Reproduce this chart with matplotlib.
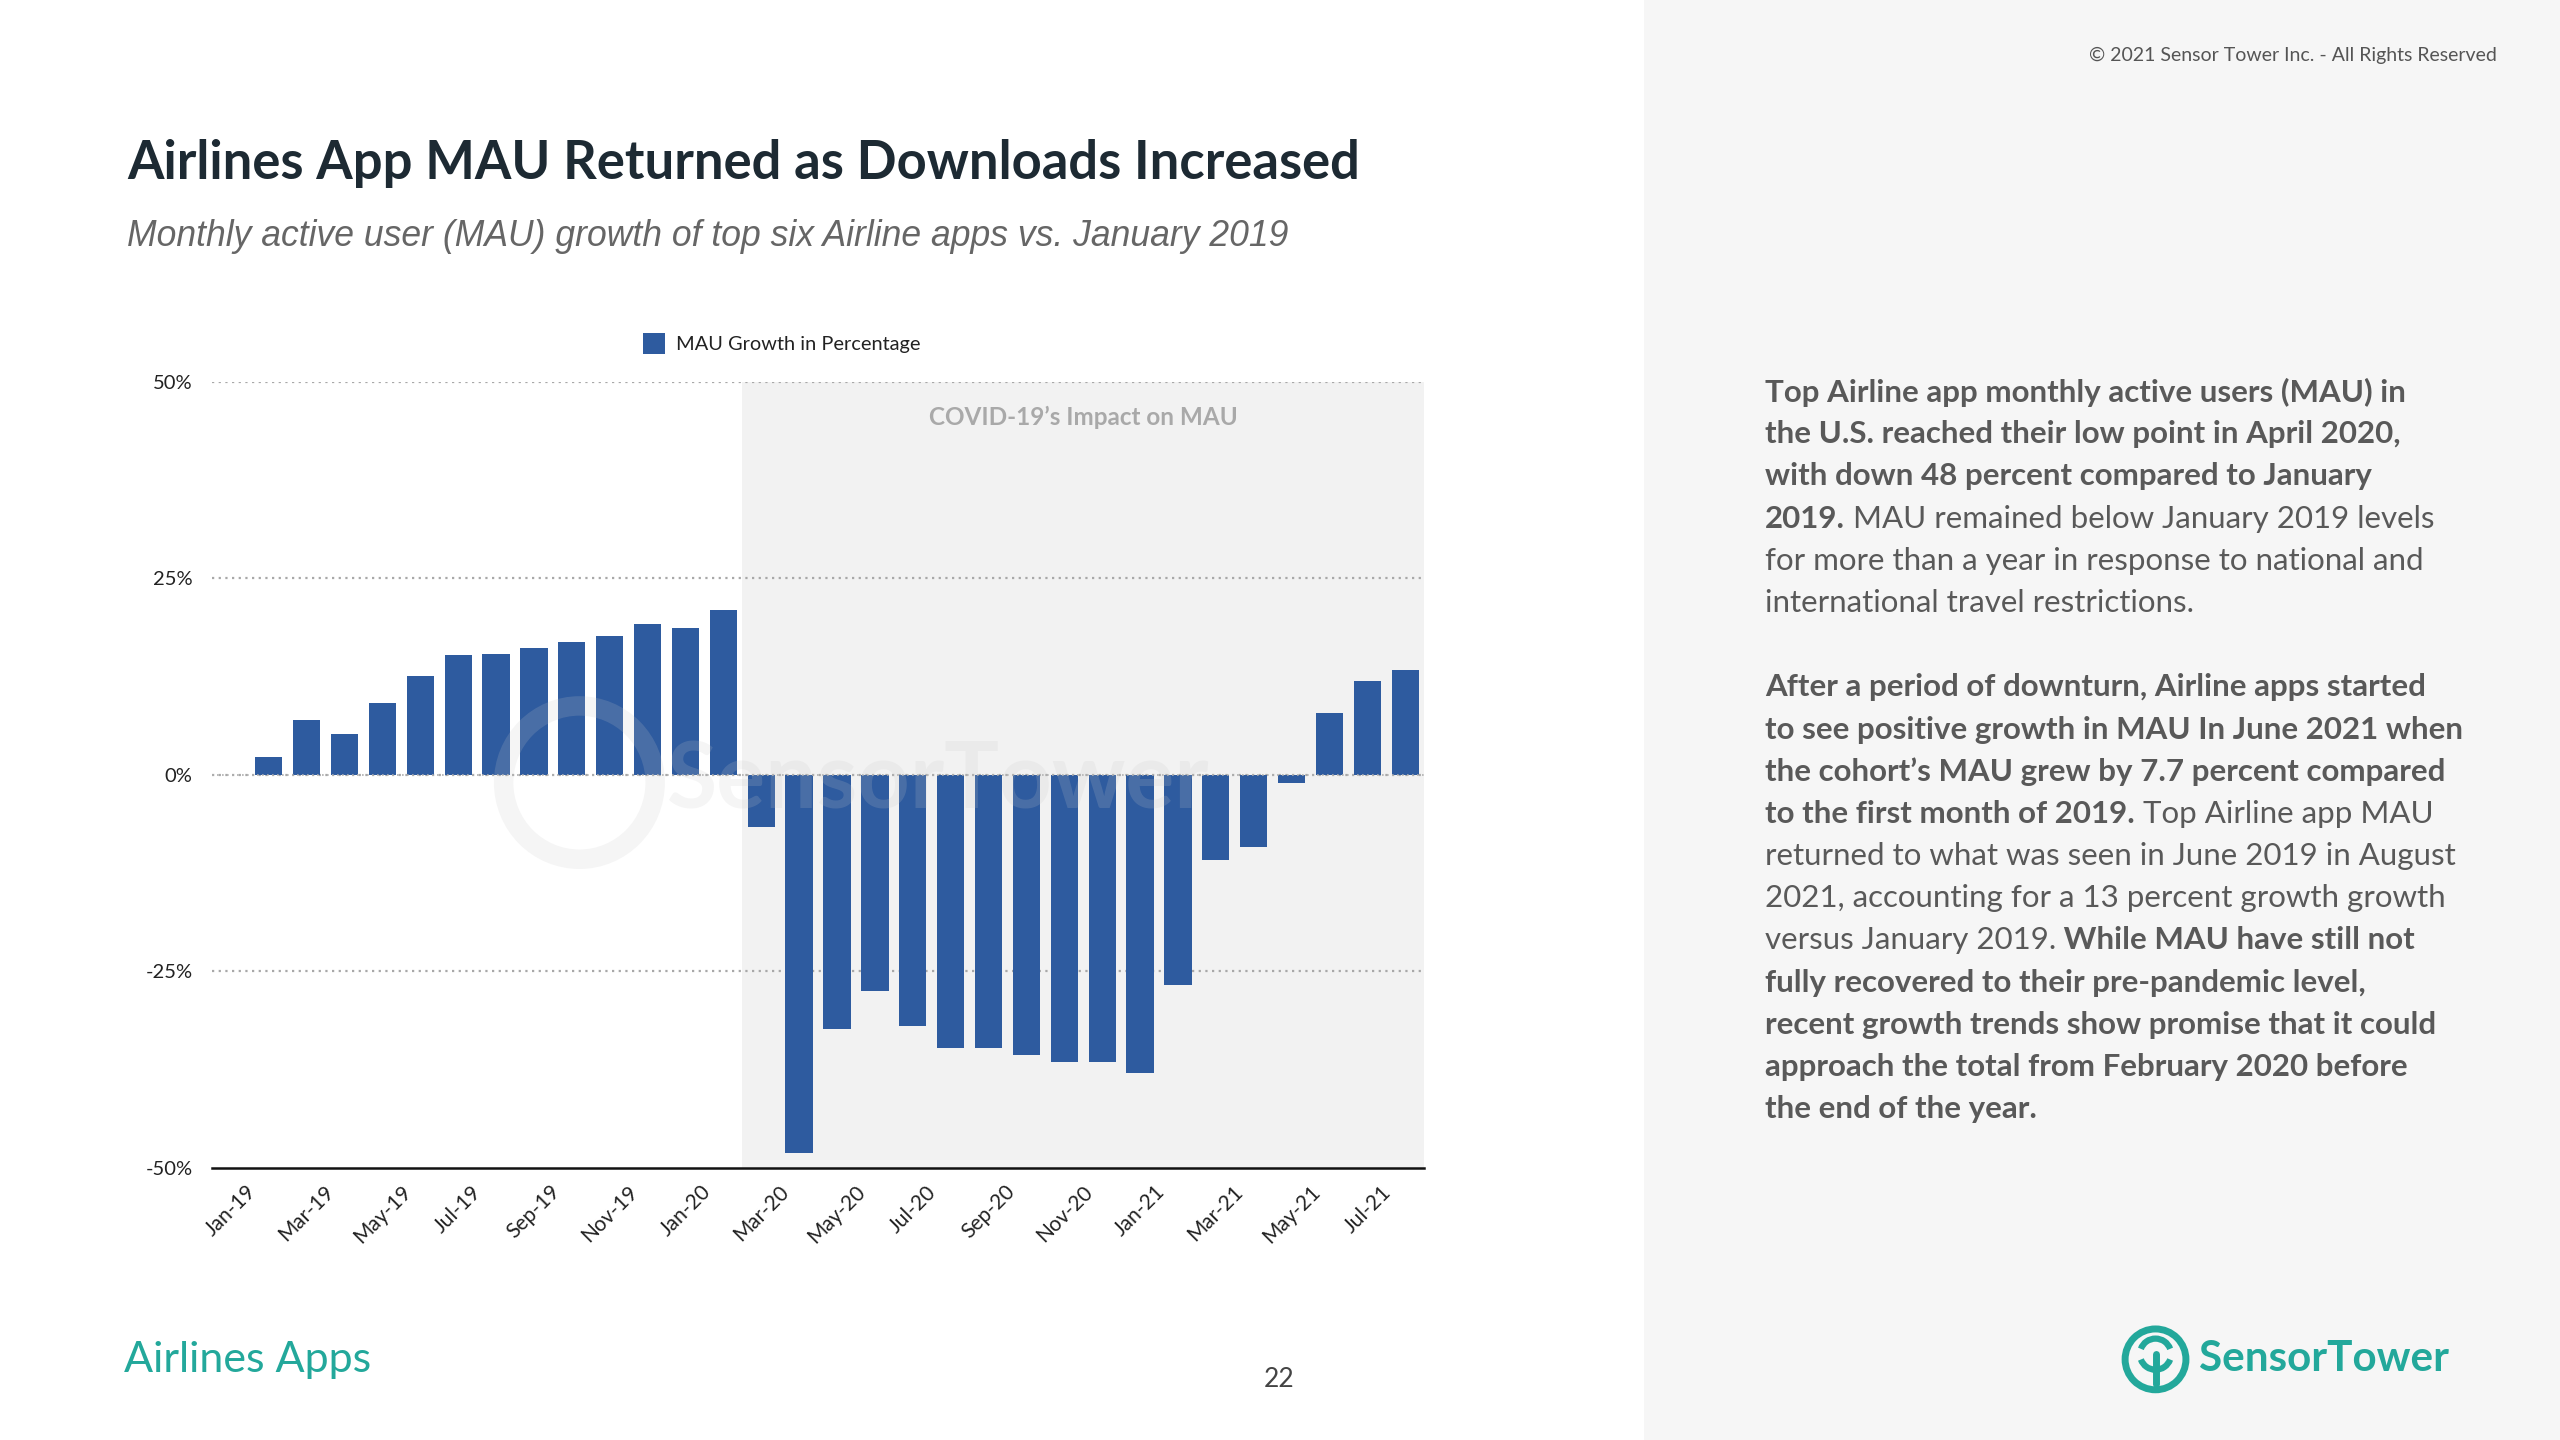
import matplotlib
matplotlib.use('Agg')
import matplotlib.pyplot as plt
import matplotlib.patches as mpatches

months = ['Jan-19', 'Feb-19', 'Mar-19', 'Apr-19', 'May-19', 'Jun-19', 'Jul-19', 'Aug-19',
          'Sep-19', 'Oct-19', 'Nov-19', 'Dec-19', 'Jan-20', 'Feb-20', 'Mar-20', 'Apr-20',
          'May-20', 'Jun-20', 'Jul-20', 'Aug-20', 'Sep-20', 'Oct-20', 'Nov-20', 'Dec-20',
          'Jan-21', 'Feb-21', 'Mar-21', 'Apr-21', 'May-21', 'Jun-21', 'Jul-21', 'Aug-21']
mau_growth = [0, 2.3, 6.9, 5.2, 9.1, 12.5, 15.2, 15.4, 16.1, 16.9, 17.6, 19.2, 18.6, 20.9,
              -6.6, -48.1, -32.3, -27.5, -31.9, -34.7, -34.7, -35.7, -36.5, -36.5,
              -38.0, -26.8, -10.8, -9.2, -1.1, 7.8, 11.9, 13.3]
tick_months = months[::2]
y_ticks = [-50, -25, 0, 25, 50]
y_tick_labels = ['-50%', '-25%', '0%', '25%', '50%']
covid_start = 'Mar-20'

title = 'Airlines App MAU Returned as Downloads Increased'
subtitle = 'Monthly active user (MAU) growth of top six Airline apps vs. January 2019'
legend_label = 'MAU Growth in Percentage'
shade_label = 'COVID-19\u2019s Impact on MAU'

# (text, bold) segments per line of the side paragraph
para_lines = [
    [('Top Airline app monthly active users (MAU) in', True)],
    [('the U.S. reached their low point in April 2020,', True)],
    [('with down 48 percent compared to January', True)],
    [('2019.', True), (' MAU remained below January 2019 levels', False)],
    [('for more than a year in response to national and', False)],
    [('international travel restrictions.', False)],
    [],
    [('After a period of downturn, Airline apps started', True)],
    [('to see positive growth in MAU In June 2021 when', True)],
    [('the cohort\u2019s MAU grew by 7.7 percent compared', True)],
    [('to the first month of 2019.', True), (' Top Airline app MAU', False)],
    [('returned to what was seen in June 2019 in August', False)],
    [('2021, accounting for a 13 percent growth growth', False)],
    [('versus January 2019.', False), (' While MAU have still not', True)],
    [('fully recovered to their pre-pandemic level,', True)],
    [('recent growth trends show promise that it could', True)],
    [('approach the total from February 2020 before', True)],
    [('the end of the year.', True)],
]

BLUE = '#2e5b9f'
TEAL = '#23a89b'
FONT = 'Lato'

fig = plt.figure(figsize=(25.6, 14.4), dpi=100)
fig.patch.set_facecolor('white')

# grey side panel
fig.patches.append(mpatches.Rectangle((0.642, 0), 0.358, 1, transform=fig.transFigure,
                                      facecolor='#f6f6f6', edgecolor='none', zorder=-5))

ax = fig.add_axes([0.0828, 0.189, 0.4735, 0.546])
x = list(range(len(months)))
ax.set_xlim(-0.5, len(months) - 0.5)
ax.set_ylim(-50, 50)

covid_idx = months.index(covid_start)
ax.axvspan(covid_idx - 0.5, len(months) - 0.5, color='#f2f2f2', zorder=0, lw=0)

for v in [50, 25, 0, -25]:
    ax.axhline(v, color='#a8a8a8', linestyle=(0, (1, 2)), linewidth=1.6, zorder=1)

ax.bar(x, mau_growth, width=0.72, color=BLUE, zorder=2)
ax.axhline(0, color='#b0b0b0', linestyle=(0, (1, 2)), linewidth=1.2, zorder=3)

for s in ['top', 'right', 'left']:
    ax.spines[s].set_visible(False)
ax.spines['bottom'].set_linewidth(1.8)
ax.spines['bottom'].set_color('#111111')
ax.spines['bottom'].set_zorder(4)

ax.set_yticks(y_ticks)
ax.set_yticklabels(y_tick_labels, fontsize=14.5, family=FONT, color='#222222')
ax.set_xticks([months.index(m) for m in tick_months])
ax.set_xticklabels(tick_months, rotation=45, ha='center', fontsize=15, family=FONT,
                   color='#222222')
ax.tick_params(axis='both', length=0)
ax.tick_params(axis='y', pad=14)
ax.tick_params(axis='x', pad=10)
ax.set_facecolor('none')

ax.text((covid_idx - 0.5 + len(months) - 0.5) / 2, 45.5, shade_label, ha='center', va='center',
        fontsize=17.5, fontweight='bold', family=FONT, color='#a9a9a9', zorder=3)

# faint watermark
ax.add_patch(mpatches.Ellipse((9.2, -1), 4.0, 19.5, fill=False, lw=14, edgecolor='#c8c8c8',
                              alpha=0.18, zorder=5))
ax.text(11.5, -1, 'SensorTower', ha='left', va='center', fontsize=66, fontweight='bold',
        family=FONT, color='#c8c8c8', alpha=0.18, zorder=5)

# title block
fig.text(0.0497, 0.8866, title, ha='left', va='center', fontsize=37.8, fontweight='bold',
         family=FONT, color='#1d2a33')
fig.text(0.0497, 0.8356, subtitle, ha='left', va='center', fontsize=25.6, style='italic',
         family='Liberation Sans', color='#666666')

# legend
fig.patches.append(mpatches.Rectangle((0.2512, 0.754), 0.0086, 0.0146, transform=fig.transFigure,
                                      facecolor=BLUE, edgecolor='none'))
fig.text(0.264, 0.7607, legend_label, ha='left', va='center', fontsize=14.4, family=FONT,
         color='#222222')

# side paragraph with mixed weights
renderer = fig.canvas.get_renderer()
inv = fig.transFigure.inverted()
y0 = 0.7278
dy = 0.0293
for i, line in enumerate(para_lines):
    xpos = 0.6895
    for text, bold in line:
        t = fig.text(xpos, y0 - i * dy, text, ha='left', va='center', fontsize=22.5,
                     fontweight='bold' if bold else 'normal', family=FONT, color='#595959')
        bb = t.get_window_extent(renderer)
        xpos = inv.transform((bb.x1, bb.y0))[0]

fig.text(0.9754, 0.9614, '\u00a9 2021 Sensor Tower Inc. - All Rights Reserved', ha='right',
         va='center', fontsize=14, family=FONT, color='#555555')

# footer
fig.text(0.0485, 0.0555, 'Airlines Apps', ha='left', va='center', fontsize=31,
         family=FONT, fontweight='normal', color=TEAL)
fig.text(0.4995, 0.0417, '22', ha='center', va='center', fontsize=19, family=FONT,
         color='#444444')

# logo
lax = fig.add_axes([0.828, 0.032, 0.028, 0.048])
lax.set_xlim(-1, 1)
lax.set_ylim(-1, 1)
lax.set_aspect('equal')
lax.axis('off')
lax.add_patch(mpatches.Circle((0, 0), 0.88, fill=False, lw=5, edgecolor=TEAL))
lax.add_patch(mpatches.Arc((0, 0.15), 0.9, 0.9, theta1=200, theta2=340, lw=4.5, color=TEAL))
lax.add_patch(mpatches.Arc((0, 0.15), 0.9, 0.9, theta1=20, theta2=160, lw=4.5, color=TEAL))
lax.plot([0, 0], [-0.7, 0.15], color=TEAL, lw=5, solid_capstyle='round')
fig.text(0.859, 0.0563, 'SensorTower', ha='left', va='center', fontsize=30.4,
         fontweight='bold', family=FONT, color=TEAL)

fig.savefig('out.png', dpi=100)
